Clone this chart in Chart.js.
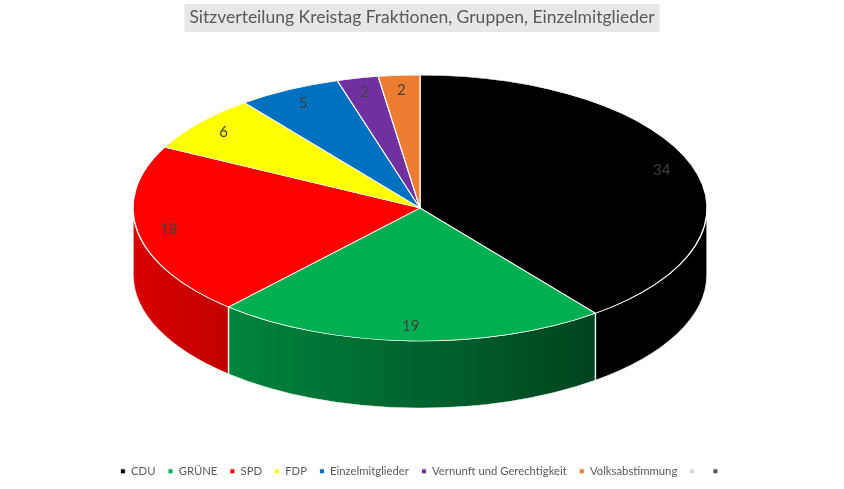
<!DOCTYPE html>
<html>
<head>
<meta charset="utf-8">
<script src="https://cdn.jsdelivr.net/npm/chart.js@4.4.1/dist/chart.umd.min.js"></script>
<style>
html, body { margin: 0; padding: 0; background: #fff; }
</style>
</head>
<body>
<canvas id="sitze" width="844" height="489"></canvas>
<script>
const parteien = ['CDU', 'GRÜNE', 'SPD', 'FDP', 'Einzelmitglieder', 'Vernunft und Gerechtigkeit', 'Volksabstimmung', '', ''];
const sitze = [34, 19, 18, 6, 5, 2, 2, 0, 0];
const farben = ['#000000', '#00b050', '#ff0000', '#ffff00', '#0070c0', '#7030a0', '#ed7d31', '#d9d9d9', '#595959'];
const titel = 'Sitzverteilung Kreistag Fraktionen, Gruppen, Einzelmitglieder';

// top face of the "3D" pie is an ellipse, side wall is TIEFE px high
const CX = 420, CY = 208, RX = 287, RY = 133, TIEFE = 67;

function dunkler(hex, f) {
    const r = parseInt(hex.substr(1, 2), 16)
    const g = parseInt(hex.substr(3, 2), 16)
    const b = parseInt(hex.substr(5, 2), 16)
    return 'rgb(' + Math.round(r * f) + ',' + Math.round(g * f) + ',' + Math.round(b * f) + ')'
}

const titelBox = {
    id: 'titelBox',
    beforeDraw(chart) {
        const ctx = chart.ctx
        const tb = chart.titleBlock
        ctx.save()
        ctx.font = '17.5px Lato'
        const w = ctx.measureText(titel).width
        const mx = (chart.chartArea.left + chart.chartArea.right) / 2
        const my = tb.top + tb.height / 2
        ctx.fillStyle = '#e7e7e7'
        ctx.fillRect(mx - w / 2 - 5, my - 14, w + 10, 28)
        ctx.restore()
    }
}

const pie3d = {
    id: 'pie3d',
    beforeDatasetsDraw(chart) {
        const ctx = chart.ctx
        const arcs = chart.getDatasetMeta(0).data
        const x = arcs[0].x, y = arcs[0].y, R = arcs[0].outerRadius
        ctx.save()
        ctx.translate(CX, CY)
        ctx.scale(RX / R, RY / R)
        ctx.translate(-x, -y)
        const d = TIEFE * R / RY
        arcs.forEach((arc, i) => {
            for (let k = -1; k <= 1; k++) {
                const lo = Math.max(arc.startAngle, 2 * Math.PI * k)
                const hi = Math.min(arc.endAngle, 2 * Math.PI * k + Math.PI)
                if (hi - lo < 0.001) continue
                const grad = ctx.createLinearGradient(x - R, 0, x + R, 0)
                grad.addColorStop(0, dunkler(farben[i], 0.85))
                grad.addColorStop(1, dunkler(farben[i], 0.27))
                ctx.beginPath()
                ctx.arc(x, y, R, lo, hi)
                ctx.arc(x, y + d, R, hi, lo, true)
                ctx.closePath()
                ctx.fillStyle = grad
                ctx.fill()
                ctx.lineWidth = 1
                ctx.strokeStyle = 'rgba(255,255,255,0.85)'
                ctx.stroke()
            }
        })
    },
    afterDatasetsDraw(chart) {
        const ctx = chart.ctx
        ctx.restore()
        const arcs = chart.getDatasetMeta(0).data
        ctx.save()
        ctx.font = '15px Lato'
        ctx.fillStyle = '#404040'
        ctx.textAlign = 'center'
        ctx.textBaseline = 'middle'
        arcs.forEach((arc, i) => {
            if (!sitze[i]) return
            const mid = (arc.startAngle + arc.endAngle) / 2
            ctx.fillText(String(sitze[i]), CX + Math.cos(mid) * RX * 0.89, CY + Math.sin(mid) * RY * 0.89)
        })
        ctx.restore()
    }
}

const ctx = document.getElementById('sitze').getContext('2d');
const chart = new Chart(ctx, {
    type: 'pie',
    data: {
        labels: parteien,
        datasets: [{
            data: sitze,
            backgroundColor: farben,
            borderColor: '#ffffff',
            borderWidth: 0.9,
            clip: false
        }]
    },
    options: {
        responsive: false,
        animation: false,
        devicePixelRatio: 1,
        events: [],
        layout: { padding: { top: 0, bottom: 2 } },
        plugins: {
            title: {
                display: true,
                text: titel,
                color: '#595959',
                font: { family: 'Lato', size: 17.5, weight: 'normal' },
                padding: { top: 7, bottom: 8 }
            },
            legend: {
                position: 'bottom',
                labels: {
                    color: '#595959',
                    font: { family: 'Lato', size: 11.3 },
                    usePointStyle: true,
                    pointStyle: 'rect',
                    boxWidth: 5,
                    boxHeight: 5,
                    padding: 12.5
                }
            },
            tooltip: { enabled: false }
        }
    },
    plugins: [titelBox, pie3d]
});
</script>
</body>
</html>
